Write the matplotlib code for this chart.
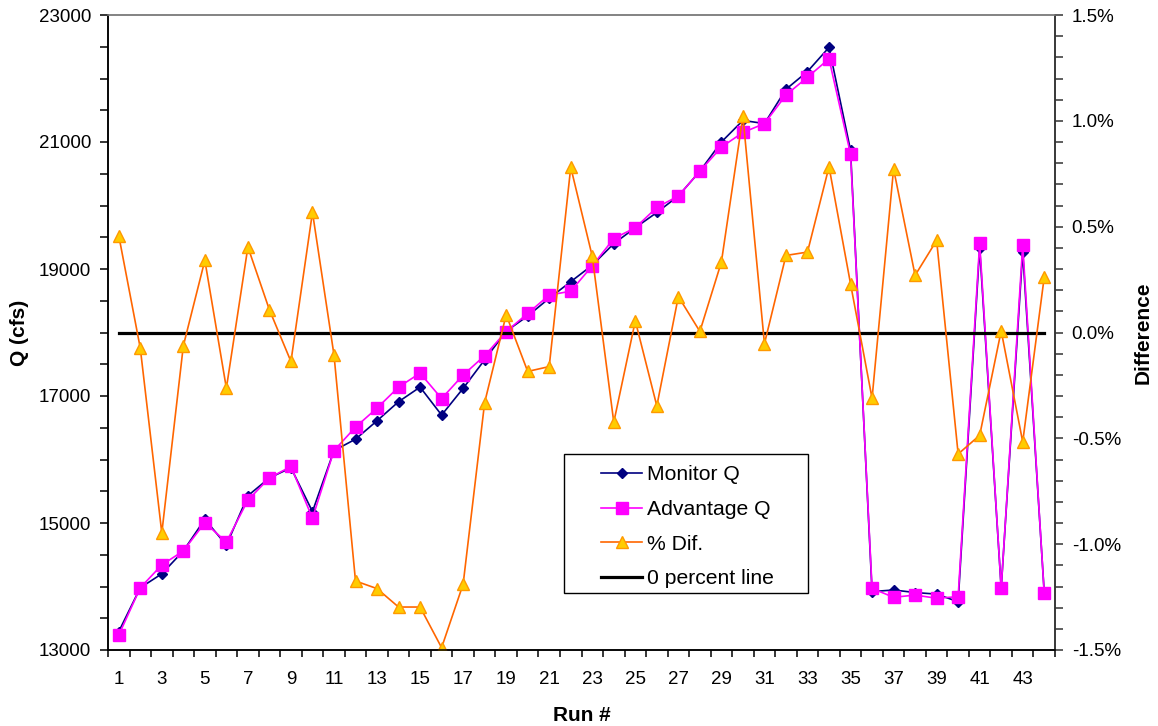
import matplotlib
matplotlib.use("Agg")
import matplotlib.pyplot as plt
from matplotlib.ticker import MultipleLocator, FuncFormatter
from matplotlib.patches import Rectangle
import numpy as np

plt.rcParams['font.family'] = ['Liberation Sans', 'DejaVu Sans']

# run numbers 1..44
runs = list(range(1, 45))

# flow from the monitor (cfs)
monitor_q = [13290, 13980, 14200, 14560, 15060, 14650, 15430, 15710, 15870, 15180,
             16140, 16320, 16610, 16910, 17140, 16700, 17120, 17570, 18020, 18260,
             18540, 18800, 19060, 19400, 19650, 19890, 20150, 20540, 21000, 21340,
             21290, 21830, 22110, 22490, 20870, 13920, 13945, 13905, 13880, 13760,
             19330, 13970, 19270, 13900]

# flow from the Advantage (cfs)
advantage_q = [13235, 13980, 14340, 14560, 15005, 14700, 15360, 15710, 15890, 15075,
               16140, 16510, 16810, 17140, 17360, 16960, 17330, 17635, 18015, 18300,
               18590, 18650, 19050, 19480, 19650, 19970, 20150, 20540, 20920, 21150,
               21290, 21740, 22020, 22310, 20810, 13970, 13830, 13865, 13815, 13840,
               19410, 13970, 19380, 13890]

# percent difference (%)
pct_dif = [0.458, -0.074, -0.947, -0.063, 0.341, -0.263, 0.404, 0.107, -0.137, 0.568,
           -0.106, -1.174, -1.210, -1.297, -1.297, -1.489, -1.189, -0.331, 0.084, -0.184,
           -0.161, 0.781, 0.360, -0.424, 0.055, -0.347, 0.170, 0.005, 0.333, 1.022,
           -0.053, 0.364, 0.380, 0.783, 0.230, -0.311, 0.773, 0.270, 0.435, -0.574,
           -0.486, 0.008, -0.517, 0.262]

zero_line = [0.0] * len(runs)

fig = plt.figure(figsize=(11.58, 7.26), dpi=100)
ax = fig.add_axes([108 / 1158, 1 - 650 / 726, 947 / 1158, 635 / 726])
ax2 = ax.twinx()

l1, = ax.plot(runs, monitor_q, color='#000080', lw=1.2, marker='D', ms=5.5,
              mfc='#000080', mec='#000080', label='Monitor Q')
l2, = ax.plot(runs, advantage_q, color='#FF00FF', lw=1.2, marker='s', ms=8,
              mfc='#FF00FF', mec='#FF00FF', label='Advantage Q')

l4, = ax2.plot(runs, zero_line, color='black', lw=2.3, label='0 percent line')
l3, = ax2.plot(runs, pct_dif, color='#FF6600', lw=1.2, marker='^', ms=9,
               mfc='#FFCC00', mec='#FF9900', mew=1.0, label='% Dif.')

# x axis
ax.set_xlim(0.5, 44.5)
ax.set_xticks(runs[::2], [str(r) for r in runs[::2]])
ax.set_xticks(np.arange(0.5, 45, 1), minor=True)
ax.tick_params(axis='x', which='major', length=0, pad=15, labelsize=13.5)
ax.tick_params(axis='x', which='minor', length=5, width=1.1, direction='out')

# left axis
ax.set_ylim(13000, 23000)
ax.set_yticks(np.arange(13000, 23001, 2000))
ax.yaxis.set_minor_locator(MultipleLocator(500))
ax.tick_params(axis='y', which='both', length=6, width=1.1, direction='out', labelsize=13.5, pad=6)

# right axis
ax2.set_ylim(-1.5, 1.5)
ax2.yaxis.set_major_locator(MultipleLocator(0.5))
ax2.yaxis.set_minor_locator(MultipleLocator(0.1))
ax2.yaxis.set_major_formatter(FuncFormatter(lambda v, p: '{:.1f}%'.format(v)))
ax2.tick_params(axis='y', which='both', length=6, width=1.1, direction='out', labelsize=13.5,
                pad=6, color='#333333')

for a in (ax, ax2):
    a.spines['left'].set_color('black')
    a.spines['bottom'].set_color('black')
    a.spines['top'].set_color('#808080')
    a.spines['right'].set_color('#333333')
    for s in a.spines.values():
        s.set_linewidth(1.1)

ax.set_xlabel('Run #', fontsize=15, fontweight='bold', labelpad=13)
ax.set_ylabel('Q (cfs)', fontsize=15, fontweight='bold', labelpad=7)
ax2.set_ylabel('Difference', fontsize=15, fontweight='bold', labelpad=9)

# legend box drawn separately so the padding matches
box = Rectangle((0.481, 0.089), 0.258, 0.219, transform=ax2.transAxes,
                facecolor='white', edgecolor='black', lw=1.0, zorder=5)
ax2.add_patch(box)
leg = ax2.legend([l1, l2, l3, l4], ['Monitor Q', 'Advantage Q', '% Dif.', '0 percent line'],
                 loc='center left', bbox_to_anchor=(0.5206, 0.194), fontsize=15.2,
                 frameon=False, handlelength=1.95, handletextpad=0.25, borderpad=0,
                 labelspacing=0.74, borderaxespad=0)
leg.set_zorder(6)

fig.savefig('out.png', dpi=100)
